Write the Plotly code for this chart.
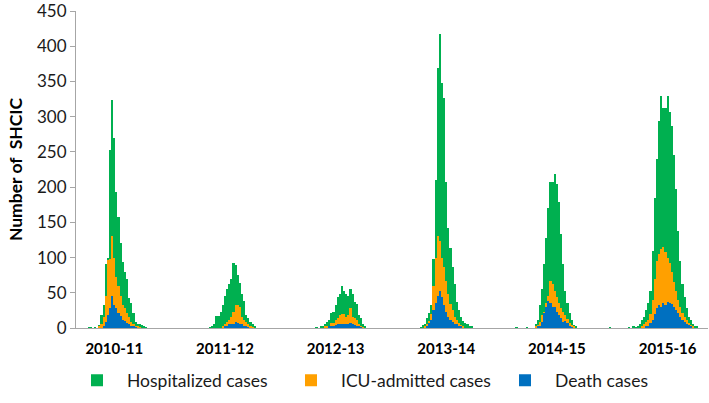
import plotly.graph_objects as go

# Season labels
seasons = ["2010-11", "2011-12", "2012-13", "2013-14", "2014-15", "2015-16"]

# Weekly counts for each season; first value = epidemiological week 36
hosp_1011 = [0,0,0,0,0,0,0,1,1,0,1,0,4,18,32,91,100,252,323,270,193,158,121,93,79,70,42,35,21,9,6,5,4,3,1]
icu_1011 = [0,0,0,0,0,0,0,0,0,0,0,0,2,5,15,45,97,98,130,100,72,60,46,32,28,21,16,9,5,3,2,1]
death_1011 = [0,0,0,0,0,0,0,0,0,0,0,0,0,0,3,8,18,28,45,33,28,22,17,12,10,7,5,3,2,1]

hosp_1112 = [0,0,0,0,0,0,0,0,0,0,0,0,1,2,5,17,17,23,32,45,56,63,70,92,89,75,64,48,39,18,14,9,5,2]
icu_1112 = [0,0,0,0,0,0,0,0,0,0,0,0,0,0,0,0,0,0,3,5,8,11,16,23,32,33,30,16,12,8,5,2,1]
death_1112 = [0,0,0,0,0,0,0,0,0,0,0,0,0,0,0,0,0,0,0,2,3,5,6,6,8,7,6,5,3,2,1]

hosp_1213 = [0,0,0,0,0,0,0,0,0,0,1,0,2,3,5,9,11,21,23,32,44,48,60,52,48,46,55,48,37,34,18,14,5,2]
icu_1213 = [0,0,0,0,0,0,0,0,0,0,0,0,0,0,2,3,3,7,7,11,14,18,20,20,16,18,29,16,14,11,6,3,1]
death_1213 = [0,0,0,0,0,0,0,0,0,0,0,0,0,0,0,0,2,3,3,4,5,5,6,5,5,6,7,5,4,3,2,1]

hosp_1314 = [0,0,0,0,0,0,0,1,4,5,14,21,32,98,210,369,418,348,327,207,142,114,86,63,37,25,16,10,7,5,3,2]
icu_1314 = [0,0,0,0,0,0,0,0,0,3,5,10,20,60,100,130,123,100,86,67,48,34,25,16,12,7,4,2]
death_1314 = [0,0,0,0,0,0,0,0,0,0,3,7,12,25,35,46,53,44,32,23,16,12,9,6,5,3,2]

hosp_1415 = [1,0,0,0,0,1,0,0,0,6,11,32,56,91,128,170,207,207,218,205,179,133,91,53,35,21,11,4,2,
             0,0,0,0,0,0,0,0,0,0,0,0,0,0,0,1]
icu_1415 = [0,0,0,0,0,0,0,0,0,2,4,9,18,23,35,46,67,63,53,44,35,28,23,18,13,7,4,2]
death_1415 = [0,0,0,0,0,0,0,0,0,0,2,3,9,21,30,39,35,30,30,23,19,14,9,10,7,3,1]

hosp_1516 = [0,1,0,2,1,2,6,11,16,25,35,53,109,184,240,294,329,313,313,329,306,287,245,198,137,95,63,44,28,16,11,6,3,2]
icu_1516 = [0,0,0,0,0,0,0,3,5,8,12,20,40,70,95,105,112,115,108,100,92,80,65,52,40,30,22,16,12,7,4,2]
death_1516 = [0,0,0,0,0,0,0,0,0,2,3,7,12,20,28,32,30,36,33,37,36,34,30,26,22,16,12,9,6,4,2]

hosp = [hosp_1011, hosp_1112, hosp_1213, hosp_1314, hosp_1415, hosp_1516]
icu = [icu_1011, icu_1112, icu_1213, icu_1314, icu_1415, icu_1516]
death = [death_1011, death_1112, death_1213, death_1314, death_1415, death_1516]

WEEKS_PER_SEASON = 52


def flatten(series_list):
    xs, ys = [], []
    for s, vals in enumerate(series_list):
        for i, v in enumerate(vals):
            xs.append(s * WEEKS_PER_SEASON + i)
            ys.append(v)
    return xs, ys


traces = [
    ("Hospitalized cases", hosp, "#00B050"),
    ("ICU-admitted cases", icu, "#FFA000"),
    ("Death cases", death, "#0070C0"),
]

fig = go.Figure()
for name, data, color in traces:
    xs, ys = flatten(data)
    fig.add_trace(go.Bar(
        x=xs, y=ys, name=name, width=1,
        marker=dict(color=color, line=dict(width=0)),
        opacity=1,
    ))

axis_grey = "#A6A6A6"
fig.update_layout(
    template="none",
    width=709, height=403,
    margin=dict(l=76, r=1, t=11, b=75, pad=0),
    plot_bgcolor="white", paper_bgcolor="white",
    barmode="overlay", bargap=0,
    font=dict(family="Lato", color="#1a1a1a"),
    xaxis=dict(
        automargin=False,
        range=[1, 298],
        tickmode="array",
        tickvals=[s * WEEKS_PER_SEASON + 19 for s in range(len(seasons))],
        ticktext=seasons,
        tickfont=dict(family="Lato", size=15, weight="bold", color="#000000"),
        ticks="", showline=True, linecolor=axis_grey, linewidth=1,
        showgrid=False, zeroline=False,
        ticklabelstandoff=7, ticklabeloverflow="allow",
    ),
    yaxis=dict(
        automargin=False,
        range=[0, 450], tick0=0, dtick=50,
        ticks="outside", ticklen=5, tickcolor=axis_grey, tickwidth=1,
        showline=True, linecolor=axis_grey, linewidth=1,
        showgrid=False, zeroline=False,
        tickfont=dict(family="Lato", size=17, color="#1a1a1a"),
        ticklabeloverflow="allow",
        title=dict(text="Number of\u00a0 SHCIC",
                   font=dict(family="Lato", size=17.5, weight="bold", color="#000000"),
                   standoff=9),
    ),
    legend=dict(
        orientation="h", x=-0.0105, xanchor="left", y=-0.165, yanchor="middle",
        itemwidth=50, entrywidth=149, entrywidthmode="pixels",
        font=dict(family="Lato", size=17.5, color="#1a1a1a"),
        bgcolor="rgba(0,0,0,0)",
    ),
)

# remove the browser's default 8px page margin so the figure fills the window exactly
fig.write_html("out.html", config={"displayModeBar": False},
               post_script="document.body.style.margin='0';")
